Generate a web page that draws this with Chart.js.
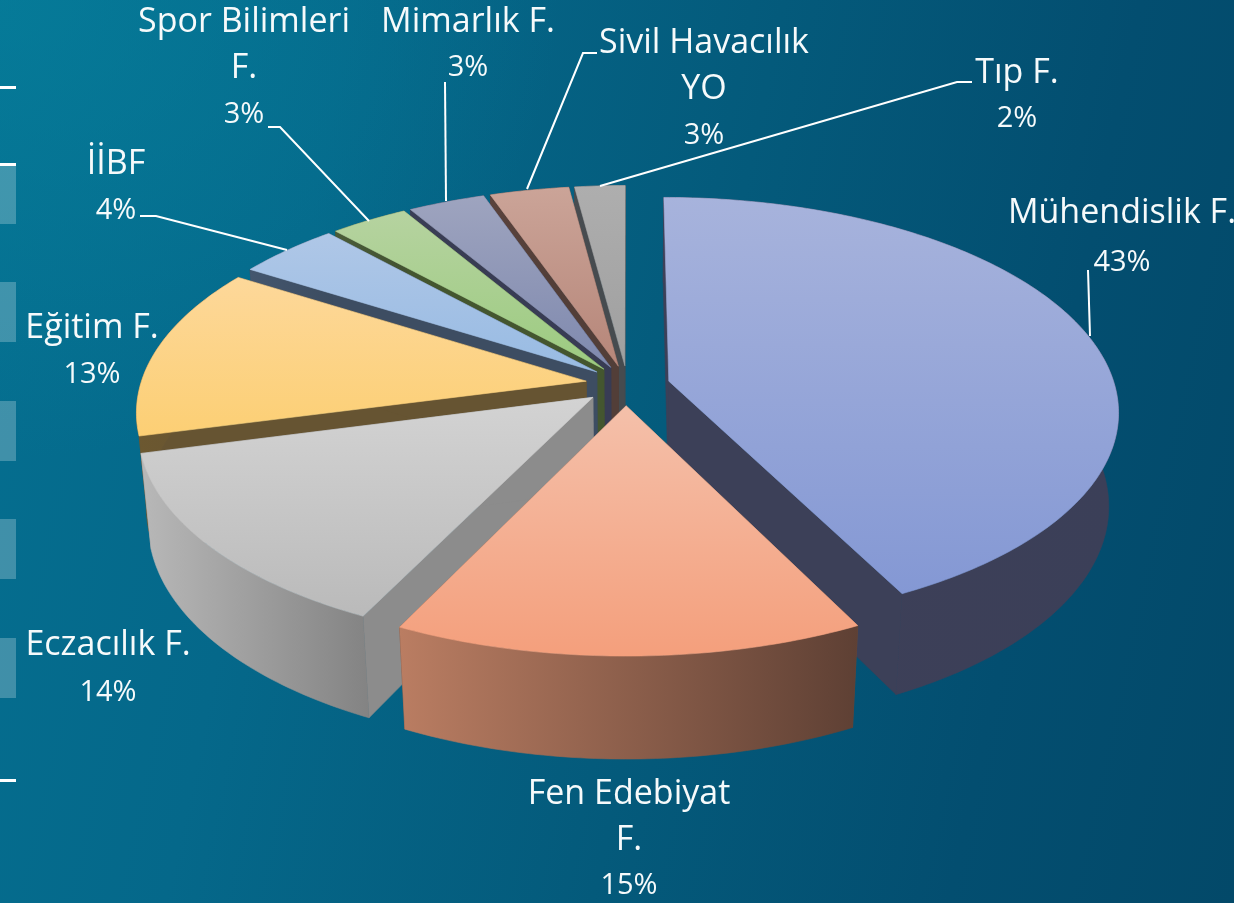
<!DOCTYPE html>
<html><head><meta charset="utf-8">
<script src="https://cdn.jsdelivr.net/npm/chart.js@4"></script>
<style>
html,body{margin:0;padding:0;width:1234px;height:903px;overflow:hidden}
body{position:relative;background:linear-gradient(102deg,#056f90 0%,#05688a 25%,#045a7b 55%,#034e70 80%,#034969 100%)}
#sheen{position:absolute;inset:0;background:radial-gradient(ellipse 560px 460px at 0 0,rgba(6,130,158,.6),rgba(6,130,158,0))}
canvas{position:absolute;left:0;top:0}
.b{position:absolute;left:0;width:16px;background:rgba(255,255,255,.24)}
.t{position:absolute;left:0;width:16px;height:3px;background:#fff}
</style></head><body>
<div id="sheen"></div>
<div class="b" style="top:164px;height:60px"></div>
<div class="b" style="top:282px;height:60px"></div>
<div class="b" style="top:401px;height:60px"></div>
<div class="b" style="top:519px;height:60px"></div>
<div class="b" style="top:638px;height:60px"></div>
<div class="t" style="top:86px"></div>
<div class="t" style="top:163px"></div>
<div class="t" style="top:779px"></div>
<canvas id="c" width="1234" height="903"></canvas>
<script>
const categories=["Mühendislik F.","Fen Edebiyat F.","Eczacılık F.","Eğitim F.","İİBF","Spor Bilimleri F.","Mimarlık F.","Sivil Havacılık YO","Tıp F."];
const shares=[43,15,14,13,4,3,3,3,2];

const topFrom=["#a7b3dc","#f4c0aa","#d3d3d3","#fdd89a","#afc7e7","#b6d3a0","#9ea4bf","#cba498","#aeaeae"];
const topTo=  ["#8498d4","#f49f7c","#bababa","#fccf74","#98bbe3","#9ccb80","#7f89ae","#b68679","#9f9f9f"];
const rimFrom=["#3e4058","#ba7d62","#b8b8b8","#6c5830","#44566e","#4a5c38","#3a3e56","#5a423c","#484c50"];
const rimTo=  ["#3b3f58","#5e4034","#838383","#665432","#3c4c60","#425232","#383c52","#503e38","#444a4e"];
const wallCol=["#3c4058","#6a4a3a","#8c8c8c","#665432","#3d4d62","#44562f","#383c54","#523e38","#464b4f"];

const labelLines=[["Mühendislik F.","43%"],["Fen Edebiyat","F.","15%"],["Eczacılık F.","14%"],["Eğitim F.","13%"],["İİBF","4%"],["Spor Bilimleri","F.","3%"],["Mimarlık F.","3%"],["Sivil Havacılık","YO","3%"],["Tıp F.","2%"]];
const labelX=[1122,629,108,92,116,244,468,704,1017];
const labelY=[213,794,645,328,164,22,22,43,73];
const labelStep=[50,46,48,47,47,46.5,46,46.5,46];
const leaders=[
 [[1088,270],[1090,336]],[],[],[],
 [[140,216],[156,216],[287,250]],
 [[268,127],[280,127],[369,221]],
 [[445,82],[446,201]],
 [[597,53],[583,53],[527,189]],
 [[972,82],[957,82],[600,186]]
];

const view={cx:627.5,cy:385.5,R:446,k:210,p:0.137,h:95,q:0.02};
// camera skew of the source 3D pie: clockwise turn from 12 o'clock -> correction (degrees)
const warpAt=[0,43,58,72,85,89,92,95,98,100];
const warpDeg=[0,-1.5,-2.8,-3.9,-3.8,-2.8,-2,-1.3,-.3,0];
function warp(t){
  const pct=((t+Math.PI/2)/(2*Math.PI))*100;
  for(let i=1;i<warpAt.length;i++){
    if(pct<=warpAt[i]+1e-6){
      const f=(pct-warpAt[i-1])/(warpAt[i]-warpAt[i-1]);
      return t+(warpDeg[i-1]+(warpDeg[i]-warpDeg[i-1])*f)*Math.PI/180;
    }
  }
  return t;
}
function proj(u,v,z){
  const w=1-view.p*v+view.q*z;
  return [view.cx+view.R*u/w, view.cy+(view.k*v+view.h*z)/w];
}
const pie3d={
  id:'pie3d',
  beforeDatasetDraw(){return false;},
  afterDatasetsDraw(chart){
    const ctx=chart.ctx, arcs=chart.getDatasetMeta(0).data;
    const parts=arcs.map((a,i)=>{
      const mid=(a.startAngle+a.endAngle)/2, d=a.options.offset/a.outerRadius;
      const ox=Math.cos(mid)*d, oy=Math.sin(mid)*d, pts=[];
      const n=Math.max(4,Math.ceil((a.endAngle-a.startAngle)/0.015));
      for(let j=0;j<=n;j++){
        const t=warp(a.startAngle+(a.endAngle-a.startAngle)*j/n);
        pts.push([ox+Math.cos(t),oy+Math.sin(t)]);
      }
      return {i,ox,oy,pts,order:Math.sin(mid)};
    }).sort((p,q)=>p.order-q.order);
    const poly=(P,col)=>{ctx.beginPath();P.forEach((q,j)=>j?ctx.lineTo(q[0],q[1]):ctx.moveTo(q[0],q[1]));ctx.closePath();ctx.fillStyle=col;ctx.fill();ctx.strokeStyle=col;ctx.lineWidth=.6;ctx.stroke();};
    for(const s of parts){
      const a0=s.pts[0], a1=s.pts[s.pts.length-1], c=[s.ox,s.oy], i=s.i;
      [a0,a1].forEach(e=>poly([proj(c[0],c[1],0),proj(e[0],e[1],0),proj(e[0],e[1],1),proj(c[0],c[1],1)],wallCol[i]));
      const top=s.pts.map(q=>proj(q[0],q[1],0)), bot=s.pts.map(q=>proj(q[0],q[1],1));
      const xs=top.concat(bot).map(q=>q[0]);
      const rg=ctx.createLinearGradient(Math.min(...xs),0,Math.max(...xs),0);
      rg.addColorStop(0,rimFrom[i]);rg.addColorStop(1,rimTo[i]);
      poly(top.concat(bot.slice().reverse()),rg);
      const P=[proj(c[0],c[1],0)].concat(top);
      const ys=P.map(q=>q[1]);
      const tg=ctx.createLinearGradient(0,Math.min(...ys),0,Math.max(...ys));
      tg.addColorStop(0,topFrom[i]);tg.addColorStop(1,topTo[i]);
      poly(P,tg);
    }
    ctx.strokeStyle="#fff";ctx.lineWidth=2;ctx.lineJoin='miter';
    leaders.forEach(L=>{if(!L.length)return;ctx.beginPath();L.forEach((q,j)=>j?ctx.lineTo(q[0],q[1]):ctx.moveTo(q[0],q[1]));ctx.stroke();});
    ctx.fillStyle="#f6fafb";ctx.textAlign='center';ctx.textBaseline='middle';
    labelLines.forEach((L,i)=>L.forEach((t,j)=>{
      ctx.font=t.endsWith('%')?'29px "Open Sans"':'34px "Open Sans"';
      ctx.fillText(t,labelX[i],labelY[i]+j*labelStep[i]);
    }));
  }
};
new Chart(document.getElementById('c'),{
  type:'pie',
  data:{labels:categories,datasets:[{data:shares,backgroundColor:topTo,borderWidth:0,offset:41}]},
  options:{responsive:false,animation:false,events:[],rotation:0,
    plugins:{legend:{display:false},tooltip:{enabled:false}}},
  plugins:[pie3d]
});
</script>
</body></html>
